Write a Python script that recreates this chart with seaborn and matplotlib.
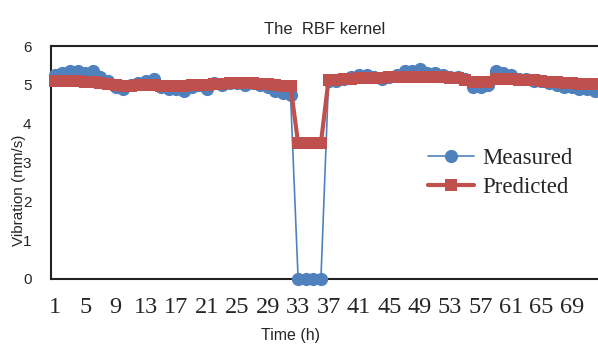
import numpy as np
import pandas as pd
import matplotlib
matplotlib.use("Agg")
import matplotlib.pyplot as plt
import seaborn as sns

# data
hours = list(range(1, 73))
measured = [
    5.25, 5.30, 5.35, 5.35, 5.30, 5.35, 5.20, 5.10,
    4.95, 4.90, 5.00, 5.05, 5.10, 5.15, 4.95, 4.90,
    4.90, 4.85, 4.95, 5.00, 4.90, 5.05, 5.00, 5.05,
    5.05, 5.00, 5.05, 5.00, 4.95, 4.85, 4.80, 4.75,
    0.00, 0.00, 0.00, 0.00,
    5.10, 5.10, 5.15, 5.20, 5.25, 5.25, 5.20, 5.15,
    5.20, 5.25, 5.35, 5.35, 5.40, 5.30, 5.30, 5.25,
    5.20, 5.20, 5.15, 4.95, 4.95, 5.00, 5.35, 5.30,
    5.25, 5.15, 5.15, 5.10, 5.10, 5.05, 5.00, 4.95,
    4.95, 4.90, 4.90, 4.85,
]
predicted = [
    5.10, 5.10, 5.10, 5.10, 5.08, 5.06, 5.05, 5.02,
    5.00, 4.98, 4.98, 5.00, 5.00, 5.00, 4.98, 4.97,
    4.97, 4.98, 5.00, 5.00, 5.00, 5.02, 5.02, 5.05,
    5.05, 5.05, 5.05, 5.03, 5.02, 5.00, 4.98, 4.97,
    3.50, 3.50, 3.50, 3.50,
    5.12, 5.13, 5.14, 5.15, 5.17, 5.18, 5.18, 5.18,
    5.19, 5.20, 5.21, 5.21, 5.21, 5.20, 5.20, 5.19,
    5.18, 5.18, 5.12, 5.08, 5.07, 5.08, 5.15, 5.15,
    5.14, 5.13, 5.12, 5.12, 5.10, 5.08, 5.07, 5.05,
    5.05, 5.03, 5.03, 5.02,
]
tick_labels = [str(h) for h in range(1, 70, 4)]

df = pd.DataFrame({"hour": hours, "Measured": measured, "Predicted": predicted})

sns.set_style("white")
plt.rcParams["font.family"] = ["Liberation Sans", "DejaVu Sans"]

fig = plt.figure(figsize=(5.98, 3.46), dpi=100)
ax = fig.add_axes([0.085, 0.194, 0.915, 0.673])

blue = "#4F81BD"
red = "#C0504D"

sns.lineplot(x="hour", y="Measured", data=df, ax=ax, color=blue,
             marker="o", markersize=9.5, markeredgewidth=0, linewidth=1.2,
             label="Measured", clip_on=False, zorder=3)
sns.lineplot(x="hour", y="Predicted", data=df, ax=ax, color=red,
             marker="s", markersize=9, markeredgewidth=0, linewidth=3,
             label="Predicted", clip_on=False, zorder=4)

ax.set_xlim(0.47, 72.45)
ax.set_ylim(0, 6)
ax.set_yticks(range(0, 7))
ax.set_xticks(range(1, 70, 4))
ax.set_xticklabels(tick_labels, fontfamily="Liberation Serif", fontsize=17.5)
ax.tick_params(axis="x", length=0, pad=13)
ax.tick_params(axis="y", length=0, pad=14, labelsize=11)

for side in ["left", "top", "bottom"]:
    ax.spines[side].set_color("#222222")
    ax.spines[side].set_linewidth(1.5)
ax.spines["right"].set_visible(False)

ax.set_title("The  RBF kernel", fontsize=12, pad=9)
ax.set_xlabel("")
fig.text(0.485, 0.03, "Time (h)", fontsize=11.5, ha="center", va="center")
ax.set_ylabel("Vibration (mm/s)", fontsize=11)
ax.yaxis.set_label_coords(-0.045, 0.38)

ax.legend(loc="upper left", bbox_to_anchor=(0.672, 0.6), frameon=False,
          prop={"family": "Liberation Serif", "size": 16.5},
          handlelength=2.0, handletextpad=0.4, labelspacing=0.35,
          borderaxespad=0)

plt.savefig("out.png", dpi=100)
